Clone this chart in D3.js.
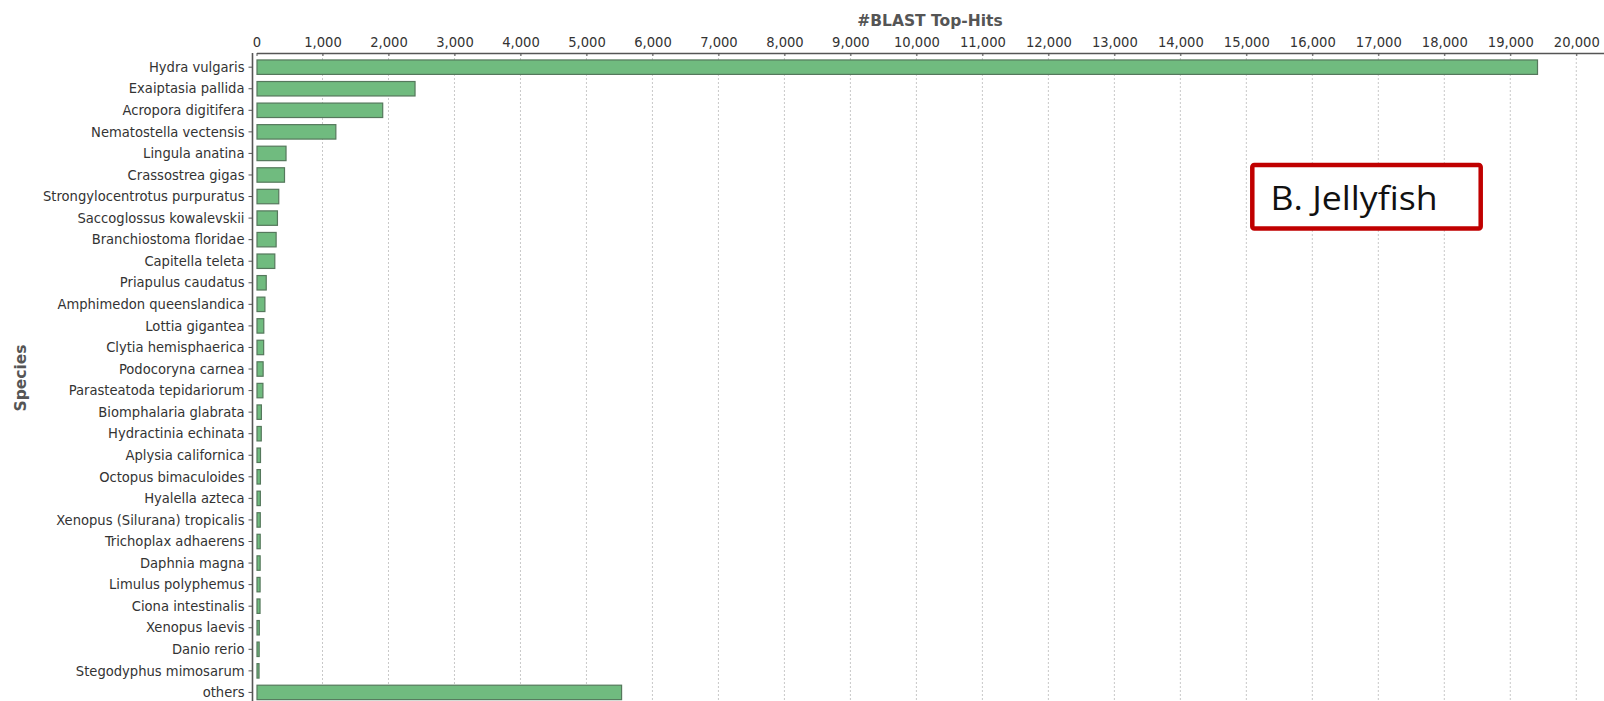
<!DOCTYPE html>
<html>
<head>
<meta charset="utf-8">
<script src="https://cdn.jsdelivr.net/npm/d3@7"></script>
<style>
  html, body { margin: 0; padding: 0; background: #fff; }
  svg { display: block; }
  .cond { font-family: "DejaVu Sans", sans-serif; font-stretch: condensed; }
</style>
</head>
<body>
<svg id="chart" width="1604" height="701"></svg>
<script>
const species = [
  "Hydra vulgaris", "Exaiptasia pallida", "Acropora digitifera", "Nematostella vectensis",
  "Lingula anatina", "Crassostrea gigas", "Strongylocentrotus purpuratus", "Saccoglossus kowalevskii",
  "Branchiostoma floridae", "Capitella teleta", "Priapulus caudatus", "Amphimedon queenslandica",
  "Lottia gigantea", "Clytia hemisphaerica", "Podocoryna carnea", "Parasteatoda tepidariorum",
  "Biomphalaria glabrata", "Hydractinia echinata", "Aplysia californica", "Octopus bimaculoides",
  "Hyalella azteca", "Xenopus (Silurana) tropicalis", "Trichoplax adhaerens", "Daphnia magna",
  "Limulus polyphemus", "Ciona intestinalis", "Xenopus laevis", "Danio rerio",
  "Stegodyphus mimosarum", "others"
];
const hits = [
  19420, 2410, 1920, 1210,
  455, 432, 345, 325,
  305, 285, 155, 135,
  118, 116, 108, 105,
  82, 80, 68, 67,
  66, 65, 64, 63,
  62, 61, 50, 48,
  46, 5540
];
const tickValues = d3.range(0, 20001, 1000);
const xTitle = "#BLAST Top-Hits";
const yTitle = "Species";
const boxLabel = "B. Jellyfish";

const svg = d3.select("#chart");
const left = 256.5, right = 1604;
const x = d3.scaleLinear().domain([0, 20420]).range([left, right]);
const y = d3.scaleBand().domain(species).range([56.4, 56.4 + species.length * 21.56])
  .paddingInner(0.33).paddingOuter(0.165);

// gridlines
svg.append("g").selectAll("line").data(tickValues.filter(d => d > 0)).join("line")
  .attr("x1", d => x(d)).attr("x2", d => x(d))
  .attr("y1", 54).attr("y2", 701)
  .attr("stroke", "#c8c8c8").attr("stroke-width", 1).attr("stroke-dasharray", "2,2");

// bars
svg.append("g").selectAll("rect").data(species).join("rect")
  .attr("x", x(0) + 0.5)
  .attr("y", d => y(d))
  .attr("width", (d, i) => Math.max(0, x(hits[i]) - x(0) - 1))
  .attr("height", y.bandwidth())
  .attr("fill", "#70bb7f")
  .attr("stroke", "#55785c")
  .attr("stroke-width", 1.2);

// top axis
const xAxis = svg.append("g").attr("transform", "translate(0,53)")
  .call(d3.axisTop(x).tickValues(tickValues).tickFormat(d3.format(",")).tickSizeInner(-3).tickSizeOuter(0).tickPadding(6.5));
xAxis.select(".domain").attr("stroke", "#555").attr("stroke-width", 1.6);
xAxis.selectAll(".tick line").attr("stroke", "#555");
xAxis.selectAll(".tick text").attr("class", "cond").attr("font-size", 14.6).attr("fill", "#333").attr("dy", 0);

// left axis
const yAxis = svg.append("g").attr("transform", "translate(252.5,0)")
  .call(d3.axisLeft(y).tickSizeInner(4).tickSizeOuter(0).tickPadding(4));
yAxis.select(".domain").attr("stroke", "#555").attr("stroke-width", 1.6)
  .attr("d", "M0,53V701");
yAxis.selectAll(".tick line").attr("stroke", "#555");
yAxis.selectAll(".tick text").attr("class", "cond").attr("font-size", 14.6).attr("fill", "#333");

// axis titles
svg.append("text")
  .attr("x", 930).attr("y", 25.5).attr("text-anchor", "middle")
  .attr("font-family", "DejaVu Sans, sans-serif")
  .attr("font-size", 15.5).attr("font-weight", "bold").attr("fill", "#555")
  .text(xTitle);
svg.append("text")
  .attr("transform", "translate(26,378) rotate(-90)").attr("text-anchor", "middle")
  .attr("font-family", "DejaVu Sans, sans-serif")
  .attr("font-size", 15.5).attr("font-weight", "bold").attr("fill", "#555")
  .text(yTitle);

// annotation box
svg.append("rect")
  .attr("x", 1252.3).attr("y", 165).attr("width", 228.4).attr("height", 63.5)
  .attr("rx", 2).attr("fill", "#fff").attr("stroke", "#c00000").attr("stroke-width", 4.5);
svg.append("text")
  .attr("x", 1270.5).attr("y", 210)
  .attr("font-family", "'Open Sans', Lato, sans-serif").attr("font-size", 32)
  .attr("fill", "#111")
  .attr("textLength", 167).attr("lengthAdjust", "spacingAndGlyphs")
  .text(boxLabel);
</script>
</body>
</html>
